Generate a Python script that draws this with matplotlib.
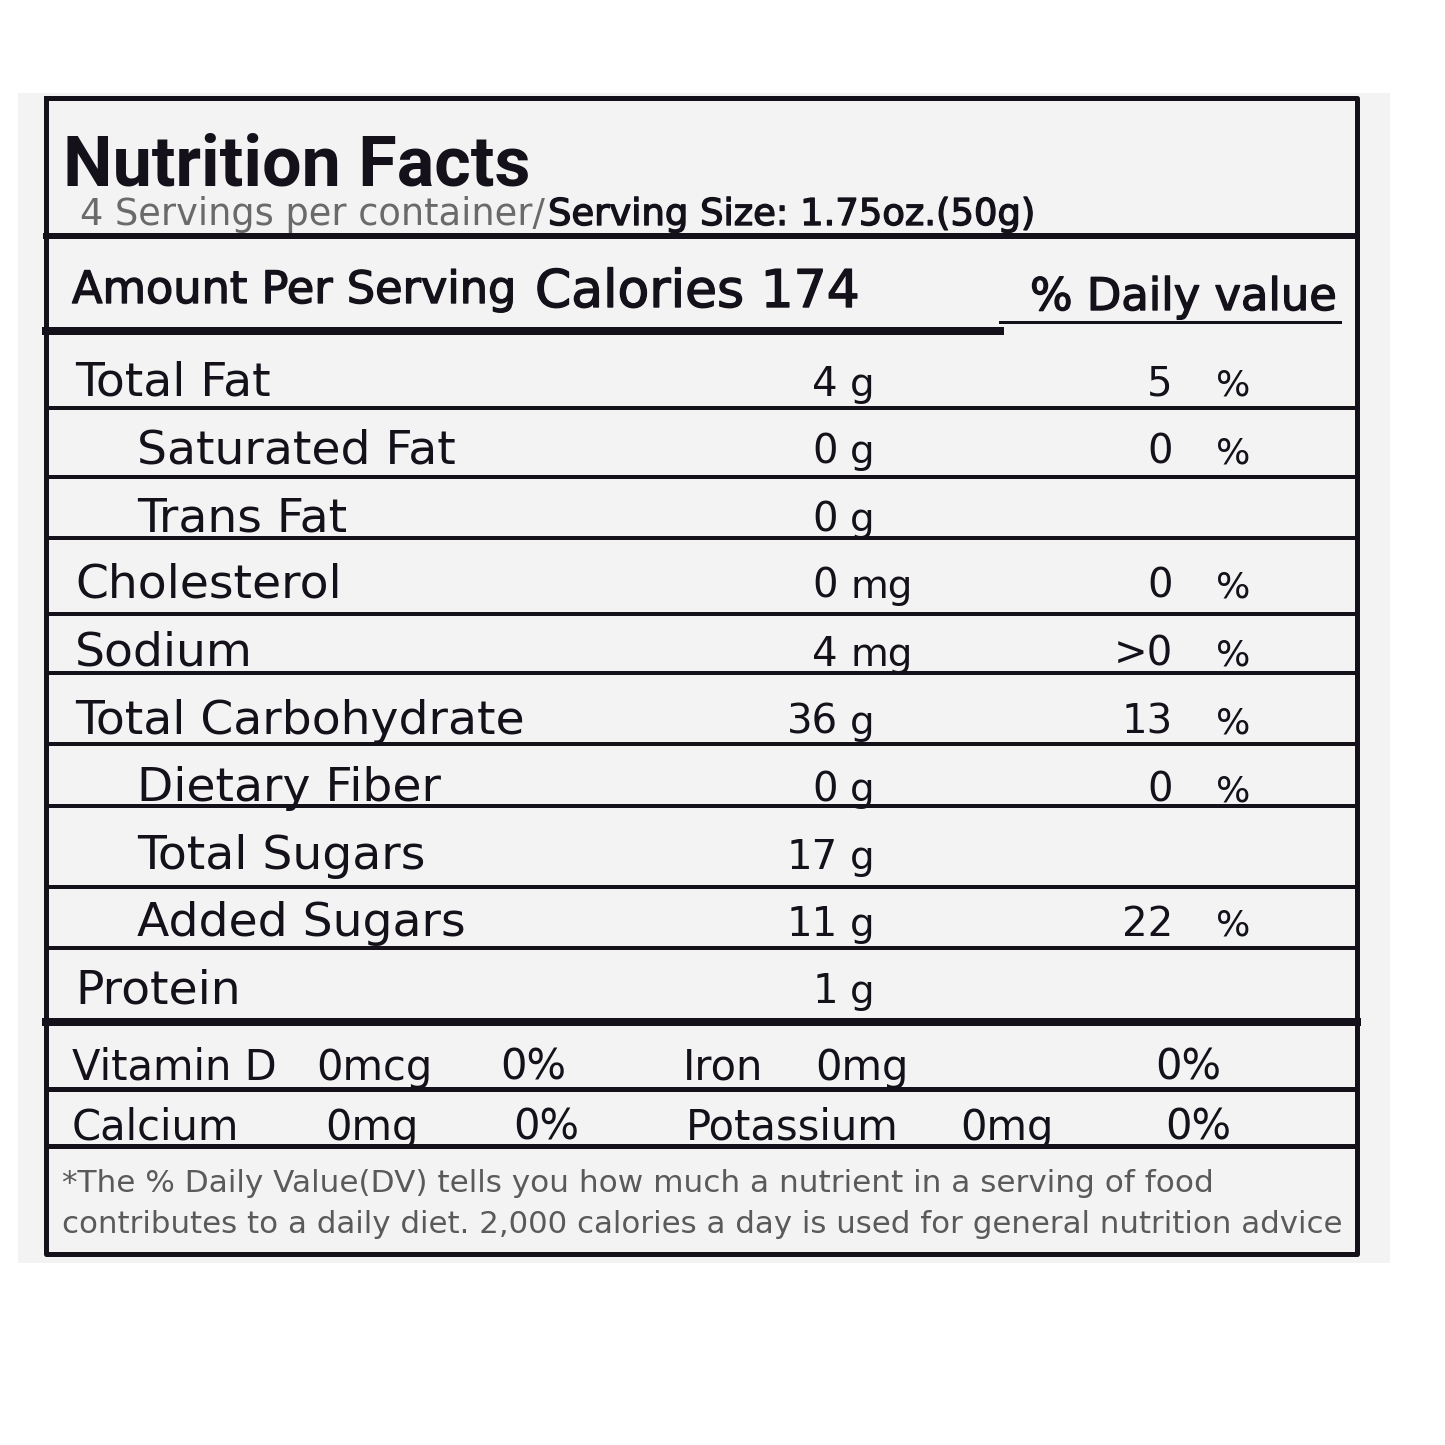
import matplotlib
matplotlib.use('Agg')
import matplotlib.pyplot as plt
import matplotlib.patheffects as pe
from matplotlib.patches import Rectangle

# label data
nutrients = ['Total Fat', 'Saturated Fat', 'Trans Fat', 'Cholesterol', 'Sodium',
             'Total Carbohydrate', 'Dietary Fiber', 'Total Sugars', 'Added Sugars', 'Protein']
indented = [False, True, True, False, False, False, True, True, True, False]
amounts = ['4', '0', '0', '0', '4', '36', '0', '17', '11', '1']
units = ['g', 'g', 'g', 'mg', 'mg', 'g', 'g', 'g', 'g', 'g']
daily_pct = ['5', '0', '', '0', '>0', '13', '0', '', '22', '']

minerals_row1 = ['Vitamin D', '0mcg', '0%', 'Iron', '0mg', '0%']
minerals_row2 = ['Calcium', '0mg', '0%', 'Potassium', '0mg', '0%']

servings = 4
serving_size = '1.75oz.(50g)'
calories = 174
footnote = ['*The % Daily Value(DV) tells you how much a nutrient in a serving of food',
            'contributes to a daily diet. 2,000 calories a day is used for general nutrition advice']

# layout (pixels)
W = 1445
row_base = [396, 463, 531, 598, 666, 734, 801, 869, 936, 1003]
row_lines = [408, 477, 538, 614, 673, 744, 806, 887, 948]
LEFT, RIGHT, TOP, BOTTOM = 46, 1357, 98, 1254
INK = '#15111a'


def px(w):
    return w * 72 / 100


fig = plt.figure(figsize=(W / 100, W / 100), dpi=100)
ax = fig.add_axes([0, 0, 1, 1])
ax.set_xlim(0, W)
ax.set_ylim(W, 0)
ax.axis('off')
r = fig.canvas.get_renderer()

semi = [pe.withStroke(linewidth=1.0, foreground=INK)]


def put(x, y, s, width=None, **kw):
    kw.setdefault('color', INK)
    kw.setdefault('va', 'baseline')
    t = ax.text(x, y, s, **kw)
    if width:
        bb = t.get_window_extent(renderer=r)
        t.set_fontsize(t.get_fontsize() * width / bb.width)
    return t


# background panel
ax.add_patch(Rectangle((18, 93), 1372, 1170, facecolor='#f3f3f3', edgecolor='none', zorder=0))

# frame and rules
ax.plot([LEFT, RIGHT, RIGHT, LEFT, LEFT], [TOP, TOP, BOTTOM, BOTTOM, TOP], color=INK, lw=px(5), zorder=3)
ax.plot([LEFT, RIGHT], [236, 236], color=INK, lw=px(6), zorder=3)
ax.plot([LEFT, 1000], [331, 331], color=INK, lw=px(8), zorder=3)
ax.plot([1000, 1340], [322, 322], color=INK, lw=px(3), zorder=3)
for y in row_lines:
    ax.plot([LEFT, RIGHT], [y, y], color=INK, lw=px(4), zorder=3)
ax.plot([LEFT, RIGHT], [1022, 1022], color=INK, lw=px(8), zorder=3)
ax.plot([LEFT, RIGHT], [1089, 1089], color=INK, lw=px(5), zorder=3)
ax.plot([LEFT, RIGHT], [1146, 1146], color=INK, lw=px(5), zorder=3)

# header
put(63, 185, 'Nutrition Facts', width=467, family='Roboto', weight='bold', fontsize=50)
put(80, 225, f'{servings} Servings per container/', width=465, fontsize=25, color='#6a6a6a')
put(548, 225, f'Serving Size: {serving_size}', width=487, fontsize=26, path_effects=semi)
put(72, 303, 'Amount Per Serving', width=445, fontsize=32, path_effects=semi)
put(535, 307, f'Calories {calories}', width=325, fontsize=36, path_effects=semi)
put(1030, 310, '% Daily value', width=307, fontsize=32, path_effects=semi)

# nutrient rows
for name, ind, amt, unit, dv, yb in zip(nutrients, indented, amounts, units, daily_pct, row_base):
    put(137 if ind else 75, yb, name, fontsize=34)
    put(838, yb, amt, ha='right', fontsize=29)
    put(850, yb, unit, ha='left', fontsize=28)
    if dv:
        put(1173, yb, dv, ha='right', fontsize=29)
        put(1216, yb, '%', ha='left', fontsize=26)

# vitamins and minerals
xs1 = [72, 316, 500, 683, 815, 1155]
xs2 = [72, 325, 513, 686, 960, 1165]
for s, x in zip(minerals_row1, xs1):
    put(x, 1080, s, fontsize=30)
for s, x in zip(minerals_row2, xs2):
    put(x, 1140, s, fontsize=30)

# footnote
put(62, 1192, footnote[0], width=1151, fontsize=21, color='#5a5a5a')
put(62, 1233, footnote[1], width=1280, fontsize=21, color='#5a5a5a')

fig.savefig('out.png', dpi=100, facecolor='white')
